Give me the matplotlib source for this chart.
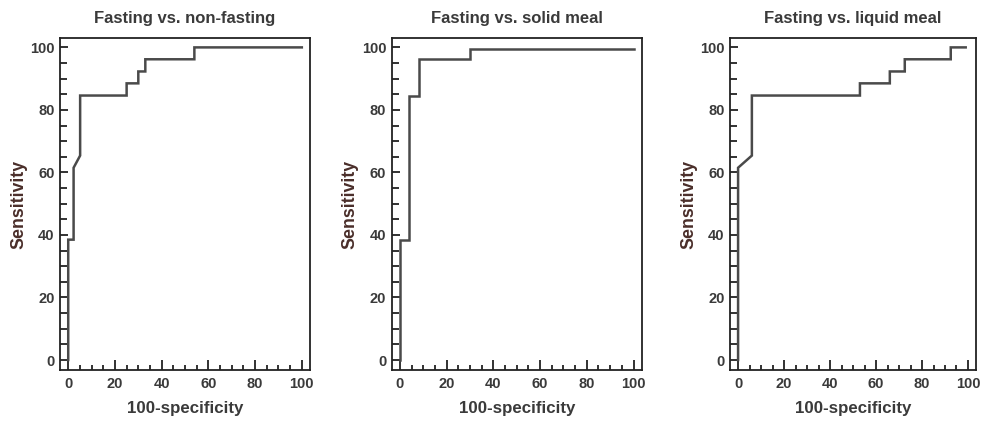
import matplotlib
matplotlib.use("Agg")
import matplotlib.pyplot as plt
from matplotlib.ticker import MultipleLocator

# ROC step curves (x = 100-specificity, y = sensitivity)
titles = ["Fasting vs. non-fasting", "Fasting vs. solid meal", "Fasting vs. liquid meal"]

nonfast_x = [0, 0, 2.3, 2.3, 5.1, 5.1, 25, 25, 30, 30, 33, 33, 54, 54, 100]
nonfast_y = [0, 38.5, 38.5, 61.5, 65.4, 84.6, 84.6, 88.5, 88.5, 92.3, 92.3, 96.2, 96.2, 100, 100]

solid_x = [0, 0, 4, 4, 8, 8, 30, 30, 100]
solid_y = [0, 38.5, 38.5, 84.6, 84.6, 96.2, 96.2, 99.5, 99.5]

liquid_x = [0, 0, 6, 6, 53, 53, 66, 66, 72.5, 72.5, 92.5, 92.5, 99]
liquid_y = [0, 61.5, 65.4, 84.6, 84.6, 88.5, 88.5, 92.3, 92.3, 96.2, 96.2, 100, 100]

curves = [(nonfast_x, nonfast_y), (solid_x, solid_y), (liquid_x, liquid_y)]

plt.rcParams["font.family"] = ["Liberation Sans", "DejaVu Sans"]
plt.rcParams["font.weight"] = "bold"

text_color = "#3a3a3a"
line_color = "#4a4a4a"

fig = plt.figure(figsize=(9.86, 4.21), dpi=100)
lefts = [0.0609, 0.3973, 0.7404]
widths = [0.2535, 0.2535, 0.2495]

for left, width, title, (xs, ys) in zip(lefts, widths, titles, curves):
    ax = fig.add_axes([left, 0.1211, width, 0.7886])
    ax.plot(xs, ys, color=line_color, lw=1.8, solid_joinstyle="miter")
    ax.set_xlim(-3.5, 103.5)
    ax.set_ylim(-3.2, 103)
    ax.xaxis.set_major_locator(MultipleLocator(20))
    ax.xaxis.set_minor_locator(MultipleLocator(5))
    ax.yaxis.set_major_locator(MultipleLocator(20))
    ax.yaxis.set_minor_locator(MultipleLocator(5))
    ax.tick_params(axis="both", which="both", direction="in", width=1.3,
                   color="#222222", labelcolor=text_color, labelsize=10.5)
    ax.tick_params(axis="x", which="major", length=7, pad=5)
    ax.tick_params(axis="x", which="minor", length=3.5)
    ax.tick_params(axis="y", which="major", length=6, pad=4)
    ax.tick_params(axis="y", which="minor", length=5)
    for sp in ax.spines.values():
        sp.set_linewidth(1.3)
        sp.set_color("#222222")
    ax.set_title(title, fontsize=12, color=text_color, pad=11, fontweight="bold")
    ax.set_xlabel("100-specificity", fontsize=12.2, color=text_color, labelpad=7,
                  fontweight="bold")
    ax.set_ylabel("Sensitivity", fontsize=12.8, color="#4a2e2a", labelpad=2,
                  fontweight="bold")

fig.savefig("out.png", dpi=100)
